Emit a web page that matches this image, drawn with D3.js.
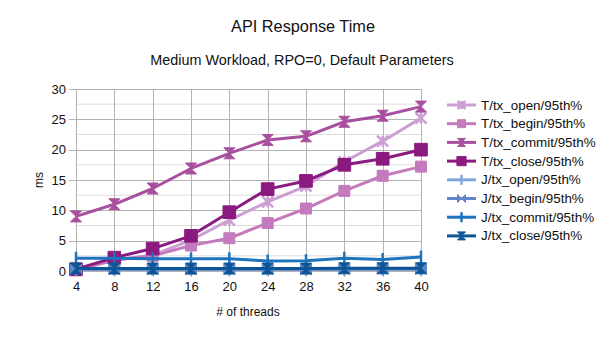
<!DOCTYPE html>
<html><head><meta charset="utf-8">
<script src="https://cdn.jsdelivr.net/npm/d3@7/dist/d3.min.js"></script>
<style>body{margin:0;background:#fff;font-family:"Liberation Sans",Arial,sans-serif}</style>
</head><body><svg id="c" width="604" height="340"></svg>
<script>
const threads = [4, 8, 12, 16, 20, 24, 28, 32, 36, 40];
const seriesNames = ["T/tx_open/95th%", "T/tx_begin/95th%", "T/tx_commit/95th%", "T/tx_close/95th%",
  "J/tx_open/95th%", "J/tx_begin/95th%", "J/tx_commit/95th%", "J/tx_close/95th%"];
const tOpen   = [0.2, 1.8, 2.6, 5.1, 8.4, 11.4, 14.0, 18.0, 21.4, 25.2];
const tBegin  = [0.1, 1.8, 2.5, 4.2, 5.4, 7.9, 10.3, 13.2, 15.7, 17.2];
const tCommit = [9.0, 11.0, 13.6, 16.9, 19.4, 21.6, 22.2, 24.6, 25.6, 27.1];
const tClose  = [0.3, 2.2, 3.7, 5.8, 9.7, 13.5, 14.85, 17.5, 18.5, 20.0];
const jOpen   = [0.3, 0.3, 0.3, 0.3, 0.3, 0.3, 0.3, 0.3, 0.3, 0.3];
const jBegin  = [0.3, 0.3, 0.3, 0.3, 0.3, 0.3, 0.3, 0.3, 0.35, 0.35];
const jCommit = [2.1, 2.1, 2.0, 2.0, 2.0, 1.65, 1.7, 2.1, 1.9, 2.3];
const jClose  = [0.4, 0.4, 0.4, 0.4, 0.4, 0.4, 0.4, 0.45, 0.45, 0.45];
const yTicks = [0, 5, 10, 15, 20, 25, 30];
const colors = ["#cc9fd3", "#c47bbd", "#a8509f", "#8b1a80", "#7fa7dc", "#5d87c6", "#1e73be", "#0e5596"];
const shapes = ["star", "square", "hourglass", "bigsquare", "plus", "bowtie", "plus", "hourglass"];
const values = [tOpen, tBegin, tCommit, tClose, jOpen, jBegin, jCommit, jClose];

const svg = d3.select("#c");
const x = d3.scaleLinear().domain([4, 40]).range([76, 421]);
const y = d3.scaleLinear().domain([0, 30]).range([271, 89]);

// minor gridlines
svg.append("g").selectAll("line").data(d3.range(2.5, 30, 5)).join("line")
  .attr("x1", 76).attr("x2", 421).attr("y1", d => y(d)).attr("y2", d => y(d))
  .attr("stroke", "#dddddd").attr("stroke-width", 1);
// major horizontal gridlines
svg.append("g").selectAll("line").data(yTicks).join("line")
  .attr("x1", 69).attr("x2", 421).attr("y1", d => Math.round(y(d)) + 0.5).attr("y2", d => Math.round(y(d)) + 0.5)
  .attr("stroke", "#b3b3b3").attr("stroke-width", 1);
// vertical gridlines
svg.append("g").selectAll("line").data(threads).join("line")
  .attr("x1", d => Math.round(x(d)) + 0.5).attr("x2", d => Math.round(x(d)) + 0.5)
  .attr("y1", 89).attr("y2", 277)
  .attr("stroke", "#b3b3b3").attr("stroke-width", 1);

// axes labels
const yAxis = d3.axisLeft(y).tickValues(yTicks).tickSize(0).tickPadding(10);
const gy = svg.append("g").attr("transform", "translate(76,0)").call(yAxis);
gy.select(".domain").remove();
gy.selectAll("text").attr("font-size", 13).attr("fill", "#111").attr("font-family", "Liberation Sans, Arial, sans-serif");
const xAxis = d3.axisBottom(x).tickValues(threads).tickSize(0).tickPadding(11);
const gx = svg.append("g").attr("transform", "translate(0,271)").call(xAxis);
gx.select(".domain").remove();
gx.selectAll("text").attr("font-size", 13).attr("fill", "#111").attr("font-family", "Liberation Sans, Arial, sans-serif");

function shapePath(s, r) {
  if (s === "square") return `M${-r},${-r}H${r}V${r}H${-r}Z`;
  if (s === "bigsquare") { const q = r * 1.15; return `M${-q},${-q}H${q}V${q}H${-q}Z`; }
  if (s === "hourglass") return `M${-r},${-r}H${r}L${-r},${r}H${r}Z`;
  if (s === "bowtie") return `M${-r},${-r}V${r}L${r},${-r}V${r}Z`;
  return null;
}
function drawMarker(g, s, color, cx, cy, r) {
  if (s === "plus") {
    g.append("line").attr("x1", cx).attr("x2", cx).attr("y1", cy - r - 1).attr("y2", cy + r + 1)
      .attr("stroke", color).attr("stroke-width", 2.5);
  } else if (s === "star") {
    g.append("path").attr("d", `M${cx - r},${cy - r}L${cx + r},${cy + r}M${cx - r},${cy + r}L${cx + r},${cy - r}M${cx},${cy - r}V${cy + r}`)
      .attr("stroke", color).attr("stroke-width", 2.5).attr("fill", "none");
  } else {
    g.append("path").attr("d", shapePath(s, r)).attr("transform", `translate(${cx},${cy})`)
      .attr("fill", color).attr("stroke", color).attr("stroke-width", 1).attr("stroke-linejoin", "round");
  }
}

const line = d3.line().x((d, i) => x(threads[i])).y(d => y(d));
values.forEach((vals, k) => {
  const g = svg.append("g");
  g.append("path").attr("d", line(vals)).attr("fill", "none").attr("stroke", colors[k])
    .attr("stroke-width", 3).attr("stroke-linejoin", "round");
  vals.forEach((v, i) => drawMarker(g, shapes[k], colors[k], x(threads[i]), y(v), 5.5));
});

// titles
svg.append("text").attr("x", 303).attr("y", 32).attr("text-anchor", "middle")
  .attr("font-size", 16.3).attr("fill", "#111").text("API Response Time");
svg.append("text").attr("x", 302).attr("y", 65).attr("text-anchor", "middle")
  .attr("font-size", 14.4).attr("fill", "#111").text("Medium Workload, RPO=0, Default Parameters");
svg.append("text").attr("x", 248).attr("y", 316).attr("text-anchor", "middle")
  .attr("font-size", 12).attr("fill", "#111").text("# of threads");
svg.append("text").attr("transform", "translate(43,180) rotate(-90)").attr("text-anchor", "middle")
  .attr("font-size", 12).attr("fill", "#111").text("ms");

// legend
const leg = svg.append("g");
seriesNames.forEach((n, k) => {
  const ly = 105 + k * 18.7;
  leg.append("line").attr("x1", 447).attr("x2", 476).attr("y1", ly).attr("y2", ly)
    .attr("stroke", colors[k]).attr("stroke-width", 3);
  drawMarker(leg, shapes[k], colors[k], 461.5, ly, 4);
  leg.append("text").attr("x", 481).attr("y", ly + 4.5).attr("font-size", 13.4).attr("fill", "#111").text(n);
});
</script></body></html>
